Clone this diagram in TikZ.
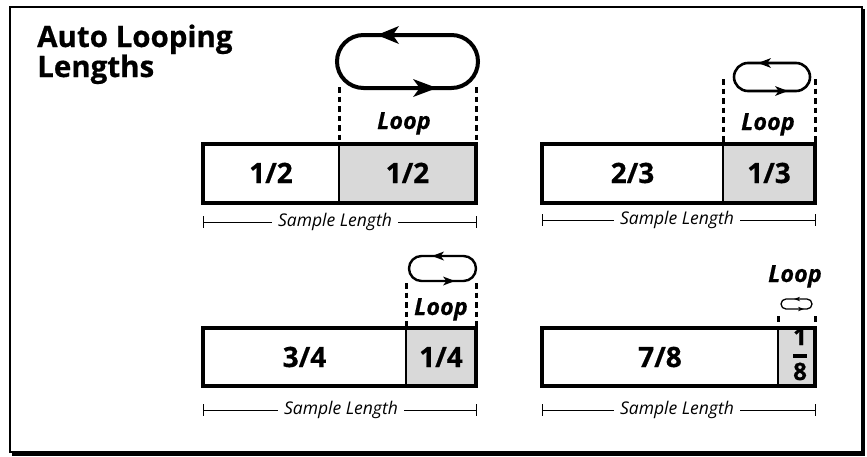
\documentclass[tikz,border=0pt]{standalone}
\usepackage{fontspec}
\setmainfont{Open Sans}[BoldFeatures={FakeBold=0.6},BoldItalicFeatures={FakeBold=0.5}]
\definecolor{barGray}{HTML}{D9D9D9}
\begin{document}
\begin{tikzpicture}[x=1pt,y=-1pt,
  bar/.style={draw=black,line width=3.2pt},
  part/.style={draw=black,line width=2.4pt},
  loopline/.style={draw=black},
  loopguide/.style={draw=black,line width=3pt,dash pattern=on 5.5pt off 4pt},
  num/.style={font=\fontsize{28}{30}\selectfont\bfseries,anchor=base,inner sep=0},
  looplbl/.style={font=\fontsize{23.5}{26}\selectfont\bfseries\itshape,anchor=base,inner sep=0},
  sl/.style={font=\fontsize{17.5}{19}\selectfont\itshape,fill=white,inner xsep=6pt,inner ysep=1pt},
  slline/.style={line width=0.9pt},
  ahead/.pic={\fill (0,0) -- (-1,-0.45) -- (-0.72,0) -- (-1,0.45) -- cycle;}
]
\useasboundingbox (0,0) rectangle (867,456);
% frame with shadow
\draw[line width=1.4pt] (10,7) rectangle (862,452);
\draw[line width=4pt] (862.5,9) -- (862.5,454) -- (12,454);

% title
\node[anchor=base west,inner sep=0,align=left,font=\fontsize{29.5}{30}\selectfont\bfseries] (title) at (37,77) {Auto Looping\\Lengths};

% ---------- Panel 1 ----------
\fill[barGray] (339,144) rectangle (476,203);
\draw[part] (339,144) -- (339,203);
\draw[bar] (203,144) rectangle (476,203);
\node[num] (p1a) at (271,183) {1/2};
\node[num] (p1b) at (407.5,183) {1/2};
\draw[line width=3pt,dash pattern=on 5.5pt off 4pt] (339,87) -- (339,144);
\draw[line width=3pt,dash pattern=on 5.5pt off 4pt] (476,87) -- (476,144);
\draw[loopline,line width=4pt,rounded corners=26.5pt] (337,35) rectangle (478,88);
\pic[xscale=-22,yscale=20] at (377,35) {ahead};
\pic[xscale=24,yscale=20] at (437,88) {ahead};
\node[looplbl] (p1l) at (404,129) {Loop};
\draw[slline] (203,222) -- (476,222) (203,216) -- (203,228) (476,216) -- (476,228);
\node[sl] (p1s) at (335,222) {Sample Length};

% ---------- Panel 2 ----------
\fill[barGray] (723,144) rectangle (815,203);
\draw[part] (723,144) -- (723,203);
\draw[bar] (542,144) rectangle (815,203);
\node[num] (p2a) at (632.5,183) {2/3};
\node[num] (p2b) at (769,183) {1/3};
\draw[line width=3pt,dash pattern=on 5.5pt off 4pt] (723,79) -- (723,144);
\draw[line width=3pt,dash pattern=on 5.5pt off 4pt] (815,79) -- (815,144);
\draw[loopline,line width=2.6pt,rounded corners=14pt] (734,63) rectangle (810,91);
\pic[xscale=-13,yscale=11] at (758,63) {ahead};
\pic[xscale=13,yscale=11] at (788,91) {ahead};
\node[looplbl] (p2l) at (768,130) {Loop};
\draw[slline] (542,220) -- (815,220) (542,214) -- (542,226) (815,214) -- (815,226);
\node[sl] (p2s) at (677,220) {Sample Length};

% ---------- Panel 3 ----------
\fill[barGray] (406,328) rectangle (476,386);
\draw[part] (406,328) -- (406,386);
\draw[bar] (203,328) rectangle (476,386);
\node[num] (p3a) at (304.5,367) {3/4};
\node[num] (p3b) at (441,367) {1/4};
\draw[line width=3pt,dash pattern=on 5.5pt off 4pt] (406,283) -- (406,328);
\draw[line width=3pt,dash pattern=on 5.5pt off 4pt] (476,283) -- (476,328);
\draw[loopline,line width=2.4pt,rounded corners=12.5pt] (409,256) rectangle (476,281);
\pic[xscale=-12,yscale=10] at (432,256) {ahead};
\pic[xscale=12,yscale=10] at (455,281) {ahead};
\node[looplbl] (p3l) at (441,315) {Loop};
\draw[slline] (203,410) -- (476,410) (203,404) -- (203,416) (476,404) -- (476,416);
\node[sl] (p3s) at (341,410) {Sample Length};

% ---------- Panel 4 ----------
\fill[barGray] (778,328) rectangle (815,386);
\draw[part] (778,328) -- (778,386);
\draw[bar] (542,328) rectangle (815,386);
\node[num] (p4a) at (660,367) {7/8};
\node[num,font=\fontsize{24}{26}\selectfont\bfseries] (p4n) at (800,345) {1};
\node[num,font=\fontsize{24}{26}\selectfont\bfseries] (p4d) at (800,380) {8};
\draw[line width=3.4pt] (793,356) -- (807,356);
\draw[line width=3pt] (778,316) -- (778,322);
\draw[line width=3pt] (815,316) -- (815,322);
\draw[loopline,line width=1.3pt,rounded corners=5pt] (781,299) rectangle (812,309);
\pic[xscale=-6,yscale=5] at (794,299) {ahead};
\pic[xscale=6,yscale=5] at (804,309) {ahead};
\node[looplbl] (p4l) at (795,282) {Loop};
\draw[slline] (542,410) -- (815,410) (542,404) -- (542,416) (815,404) -- (815,416);
\node[sl] (p4s) at (677,410) {Sample Length};
\end{tikzpicture}
\end{document}
